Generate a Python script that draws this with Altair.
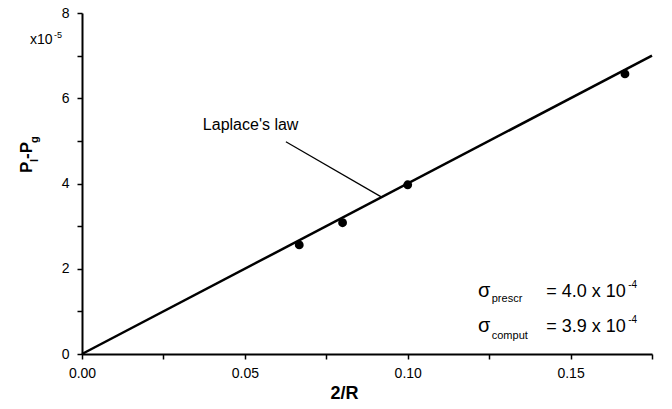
import altair as alt
import pandas as pd

# measured data (2/R, P_l - P_g in units of 1e-5)
inv_r = [0.0667, 0.0800, 0.1000, 0.1667]
dp = [2.56, 3.08, 3.97, 6.57]

# Laplace's law line, sigma = 4.0e-4
law_x = [0.0, 0.175]
law_y = [0.0, 7.0]

x_ticks = [0.0, 0.025, 0.05, 0.075, 0.10, 0.125, 0.15, 0.175]
y_ticks = [0, 1, 2, 3, 4, 5, 6, 7, 8]

FONT = "Liberation Sans"
W, H = 570, 341

pts = pd.DataFrame({"x": inv_r, "y": dp})
law = pd.DataFrame({"x": law_x, "y": law_y})

xs = alt.Scale(domain=[0, 0.175], nice=False, zero=False)
ys = alt.Scale(domain=[0, 8], nice=False)

xaxis = alt.Axis(
    values=x_ticks, format=".2f",
    labelExpr="round(datum.value*40)%2==0 ? datum.label : ''",
    labelFlush=False,
    tickSize=5, labelPadding=7, labelFontSize=14, labelFont=FONT,
    title="2/R", titleFont=FONT, titleFontSize=18, titleFontWeight="bold",
    titleX=262, titleY=44, titleBaseline="alphabetic", titleAlign="center",
    grid=False, domainWidth=2, tickWidth=1.5,
)
yaxis = alt.Axis(
    values=y_ticks, format="d",
    labelExpr="datum.value%2==0 ? datum.label : ''",
    labelFlush=False,
    tickSize=5, labelPadding=8, labelFontSize=14, labelFont=FONT,
    title=None, grid=False, domainWidth=2, tickWidth=1.5,
)

line = alt.Chart(law).mark_line(color="black", strokeWidth=2.5).encode(
    x=alt.X("x:Q", scale=xs, axis=xaxis),
    y=alt.Y("y:Q", scale=ys, axis=yaxis),
)

points = alt.Chart(pts).mark_circle(size=78, color="black", opacity=1).encode(
    x=alt.X("x:Q", scale=xs), y=alt.Y("y:Q", scale=ys)
)

leader = alt.Chart(pd.DataFrame({"x": [0.0626], "y": [4.98], "x2": [0.092], "y2": [3.68]})).mark_rule(
    color="black", strokeWidth=1.2
).encode(x=alt.X("x:Q", scale=xs), y=alt.Y("y:Q", scale=ys), x2="x2:Q", y2="y2:Q")

# in-plot annotations (data coordinates)
ann = pd.DataFrame({
    "x": [0.0371, 0.1216, 0.1258, 0.1425, 0.1677, 0.1216, 0.1258, 0.1425, 0.1677],
    "y": [5.26, 1.34, 1.22, 1.34, 1.55, 0.52, 0.36, 0.52, 0.73],
    "t": ["Laplace's law", "σ", "prescr", "=  4.0 x 10", "-4", "σ", "comput", "=  3.9 x 10", "-4"],
    "s": [16, 20, 11, 18, 10, 20, 11, 18, 10],
})
ann_text = alt.Chart(ann).mark_text(align="left", baseline="alphabetic", font=FONT, color="black").encode(
    x=alt.X("x:Q", scale=xs), y=alt.Y("y:Q", scale=ys), text="t:N",
    size=alt.Size("s:Q", scale=None, legend=None),
)

# y-axis title P_l - P_g (rotated, with subscripts) and the x10^-5 multiplier
ytitle = pd.DataFrame({
    "t": ["P", "l", "-P", "g"],
    "px": [-50, -44, -50, -44],
    "py": [160, 149, 146, 130],
    "s": [17, 11, 17, 11],
})
ytitle_text = alt.Chart(ytitle).mark_text(
    align="left", baseline="alphabetic", angle=270, font=FONT, fontWeight="bold", color="black"
).encode(
    x=alt.X("px:Q", scale=None), y=alt.Y("py:Q", scale=None), text="t:N",
    size=alt.Size("s:Q", scale=None, legend=None),
)

mult = pd.DataFrame({"t": ["x10", "-5"], "px": [-52, -28], "py": [31, 25], "s": [14, 9]})
mult_text = alt.Chart(mult).mark_text(align="left", baseline="alphabetic", font=FONT, color="black").encode(
    x=alt.X("px:Q", scale=None), y=alt.Y("py:Q", scale=None), text="t:N",
    size=alt.Size("s:Q", scale=None, legend=None),
)

chart = alt.layer(line, leader, points, ann_text, ytitle_text, mult_text).properties(
    width=W, height=H,
    autosize=alt.AutoSizeParams(type="none"),
    padding={"left": 82, "top": 13, "right": 20, "bottom": 55},
    background="white",
).configure_view(stroke=None).configure_axis(
    domainColor="black", tickColor="black", labelColor="black", titleColor="black"
)

chart.save("out.html", embed_options={"renderer": "svg", "actions": False})
